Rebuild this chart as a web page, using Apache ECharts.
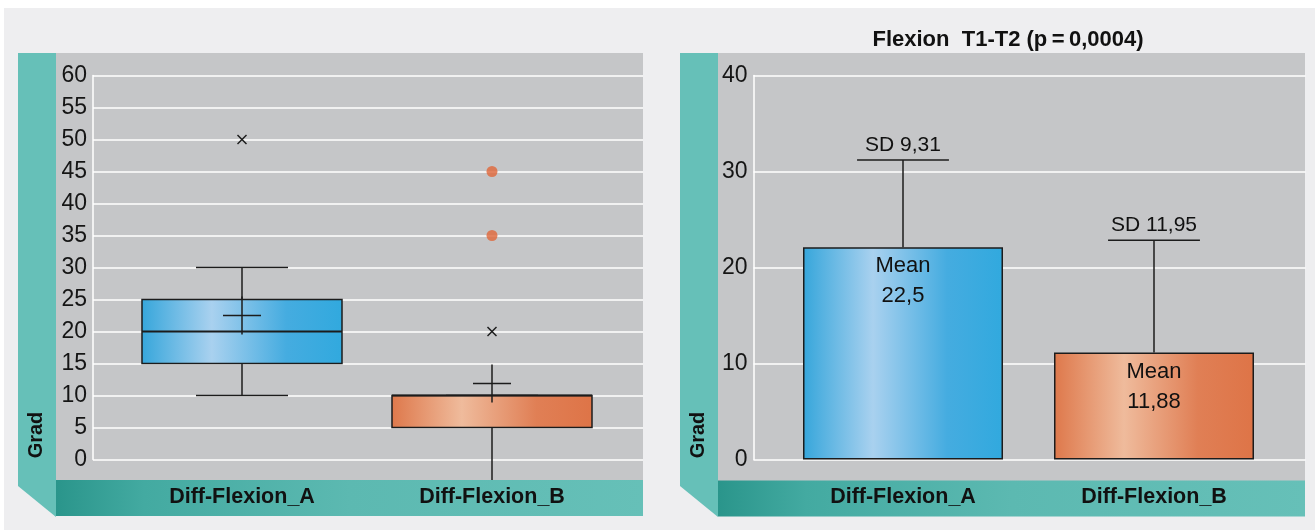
<!DOCTYPE html>
<html>
<head>
<meta charset="utf-8">
<script src="https://cdn.jsdelivr.net/npm/echarts@6/dist/echarts.min.js"></script>
<style>
  html, body { margin: 0; padding: 0; background: #fff; }
  #chart { width: 1315px; height: 532px; }
</style>
</head>
<body>
<div id="chart"></div>
<script>
  // linke Seite: Boxplot
  const categories = ['Diff-Flexion_A', 'Diff-Flexion_B']
  const boxMin = [10, -5]
  const boxQ1 = [15, 5]
  const boxMedian = [20, 10]
  const boxQ3 = [25, 10]
  const boxMax = [30, 10]
  const boxMean = [22.5, 11.88]
  const outlierCross = [[0, 50], [1, 20]]
  const outlierDot = [[1, 45], [1, 35]]
  const leftTicks = { min: 0, max: 60, step: 5 }

  // rechte Seite: Mittelwert + SD
  const barMean = [22.1, 11.15]
  const sdTop = [31.2, 22.85]
  const meanText = ['22,5', '11,88']
  const sdText = ['9,31', '11,95']
  const rightTicks = { min: 0, max: 40, step: 10 }

  const title = 'Flexion  T1-T2 (p\u2009=\u20090,0004)'
  const yName = 'Grad'

  const FONT = '"Liberation Sans", Arial, sans-serif'
  const INK = '#1c1c1c'
  const TEAL = '#66c0b8'
  const PANEL = '#c5c6c8'

  const grad = stops => ({
    type: 'linear', x: 0, y: 0, x2: 1, y2: 0,
    colorStops: stops.map(s => ({ offset: s[0], color: s[1] }))
  })
  const fills = [
    grad([[0, '#36a6db'], [0.35, '#a9d1ef'], [0.72, '#45ace0'], [1, '#31a9de']]),
    grad([[0, '#de784b'], [0.35, '#efbb9c'], [0.72, '#e07f55'], [1, '#de7447']])
  ]
  const stripFill = grad([[0, '#2a958b'], [0.15, '#43aaa1'], [0.5, '#5cb9b1'], [1, TEAL]])

  const line = (x1, y1, x2, y2, w) => ({
    type: 'line',
    shape: { x1, y1, x2, y2 },
    style: { stroke: INK, lineWidth: w || 1.5 }
  })

  function renderBox (params, api) {
    const i = api.value(0)
    const p = k => api.coord([i, api.value(k)])
    const lo = p(1), q1 = p(2), md = p(3), q3 = p(4), hi = p(5), mn = p(6)
    const band = api.size([1, 0])[0]
    const half = band * 0.4
    const cap = band * 0.184
    const plus = 19
    const cx = lo[0]
    return {
      type: 'group',
      children: [
        line(cx, q3[1], cx, hi[1]),
        line(cx, q1[1], cx, lo[1]),
        line(cx - cap, hi[1], cx + cap, hi[1]),
        line(cx - cap, lo[1], cx + cap, lo[1]),
        {
          type: 'rect',
          shape: { x: cx - half, y: q3[1], width: half * 2, height: q1[1] - q3[1] },
          style: { fill: fills[params.dataIndex], stroke: INK, lineWidth: 1.5 }
        },
        line(cx - half, md[1], cx + half, md[1], 2),
        line(cx - plus, mn[1], cx + plus, mn[1]),
        line(cx, mn[1] - plus, cx, mn[1] + plus)
      ]
    }
  }

  function renderCross (params, api) {
    const c = api.coord([api.value(0), api.value(1)])
    const s = 4.5
    return {
      type: 'group',
      children: [
        line(c[0] - s, c[1] - s, c[0] + s, c[1] + s),
        line(c[0] - s, c[1] + s, c[0] + s, c[1] - s)
      ]
    }
  }

  function renderSd (params, api) {
    const i = api.value(0)
    const base = api.coord([i, api.value(1)])
    const top = api.coord([i, api.value(2)])
    const cap = api.size([1, 0])[0] * 0.183
    return {
      type: 'group',
      children: [
        line(base[0], base[1], base[0], top[1]),
        line(base[0] - cap, top[1], base[0] + cap, top[1]),
        {
          type: 'text',
          x: base[0],
          y: top[1] - 4,
          style: {
            text: 'SD ' + sdText[params.dataIndex],
            font: '21px ' + FONT,
            fill: '#111',
            align: 'center',
            verticalAlign: 'bottom'
          }
        }
      ]
    }
  }

  const yAxisVisible = (grid, t) => ({
    gridIndex: grid,
    type: 'value',
    min: t.min,
    max: t.max,
    interval: t.step,
    axisLine: { show: true, lineStyle: { color: '#fff', width: 1.5 } },
    axisTick: { show: false },
    axisLabel: { fontSize: 23, color: '#151515', fontFamily: FONT, margin: 6 },
    splitLine: { show: true, lineStyle: { color: '#fff', width: 1.5 } }
  })
  const yAxisHidden = (grid, t) => ({
    gridIndex: grid, type: 'value', min: t.min, max: t.max, show: false
  })
  const xAxisCat = grid => ({
    gridIndex: grid,
    type: 'category',
    data: categories,
    z: 10,
    axisLine: { show: false },
    axisTick: { show: false },
    splitLine: { show: false },
    axisLabel: { fontSize: 21.5, fontWeight: 'bold', color: '#111', fontFamily: FONT, margin: 27 }
  })

  const wall = x => ({
    type: 'polygon',
    z: -10,
    shape: { points: [[x, 53], [x + 38, 53], [x + 38, 517], [x, 486]] },
    style: { fill: TEAL }
  })
  const gradText = x => ({
    type: 'text',
    z: -5,
    x: x,
    y: 435,
    rotation: Math.PI / 2,
    style: {
      text: yName, font: 'bold 20px ' + FONT, fill: '#111',
      align: 'center', verticalAlign: 'middle'
    }
  })

  const myChart = echarts.init(document.getElementById('chart'))
  myChart.setOption({
    animation: false,
    textStyle: { fontFamily: FONT },
    graphic: [
      { type: 'rect', z: -20, shape: { x: 4, y: 8, width: 1311, height: 522 }, style: { fill: '#eeeef0' } },
      { type: 'rect', z: -10, shape: { x: 56, y: 53, width: 587, height: 430 }, style: { fill: PANEL } },
      { type: 'rect', z: -10, shape: { x: 718, y: 53, width: 587, height: 430 }, style: { fill: PANEL } },
      wall(18),
      wall(680),
      { type: 'rect', z: 5, shape: { x: 56, y: 480, width: 587, height: 36 }, style: { fill: stripFill } },
      { type: 'rect', z: 5, shape: { x: 718, y: 480.5, width: 587, height: 36 }, style: { fill: stripFill } },
      gradText(36),
      gradText(698),
      {
        type: 'text',
        x: 1008,
        y: 40,
        style: {
          text: title, font: 'bold 22px ' + FONT, fill: '#111',
          align: 'center', verticalAlign: 'middle'
        }
      }
    ],
    grid: [
      { left: 93, top: 75.5, width: 550, height: 384 },
      { left: 117, top: 75.5, width: 500, height: 384 },
      { left: 753.5, top: 75.5, width: 552, height: 384 },
      { left: 777.5, top: 75.5, width: 502, height: 384 }
    ],
    xAxis: [
      { gridIndex: 0, type: 'value', show: false, min: 0, max: 1 },
      xAxisCat(1),
      { gridIndex: 2, type: 'value', show: false, min: 0, max: 1 },
      xAxisCat(3)
    ],
    yAxis: [
      yAxisVisible(0, leftTicks),
      yAxisHidden(1, leftTicks),
      yAxisVisible(2, rightTicks),
      yAxisHidden(3, rightTicks)
    ],
    series: [
      {
        type: 'custom',
        xAxisIndex: 1,
        yAxisIndex: 1,
        renderItem: renderBox,
        encode: { x: 0, y: [1, 2, 3, 4, 5, 6] },
        data: categories.map((c, i) => [i, boxMin[i], boxQ1[i], boxMedian[i], boxQ3[i], boxMax[i], boxMean[i]])
      },
      {
        type: 'custom',
        xAxisIndex: 1,
        yAxisIndex: 1,
        renderItem: renderCross,
        encode: { x: 0, y: 1 },
        data: outlierCross
      },
      {
        type: 'scatter',
        xAxisIndex: 1,
        yAxisIndex: 1,
        symbol: 'circle',
        symbolSize: 11,
        itemStyle: { color: '#e0673a' },
        data: outlierDot
      },
      {
        type: 'bar',
        xAxisIndex: 3,
        yAxisIndex: 3,
        barWidth: 200,
        itemStyle: { borderColor: INK, borderWidth: 1.5 },
        label: {
          show: true,
          position: 'insideTop',
          distance: 4,
          fontSize: 22,
          lineHeight: 30,
          color: '#111',
          fontFamily: FONT,
          formatter: p => 'Mean\n' + meanText[p.dataIndex]
        },
        data: barMean.map((v, i) => ({ value: v, itemStyle: { color: fills[i] } }))
      },
      {
        type: 'custom',
        xAxisIndex: 3,
        yAxisIndex: 3,
        renderItem: renderSd,
        encode: { x: 0, y: [1, 2] },
        data: categories.map((c, i) => [i, barMean[i], sdTop[i]])
      }
    ]
  })
</script>
</body>
</html>
